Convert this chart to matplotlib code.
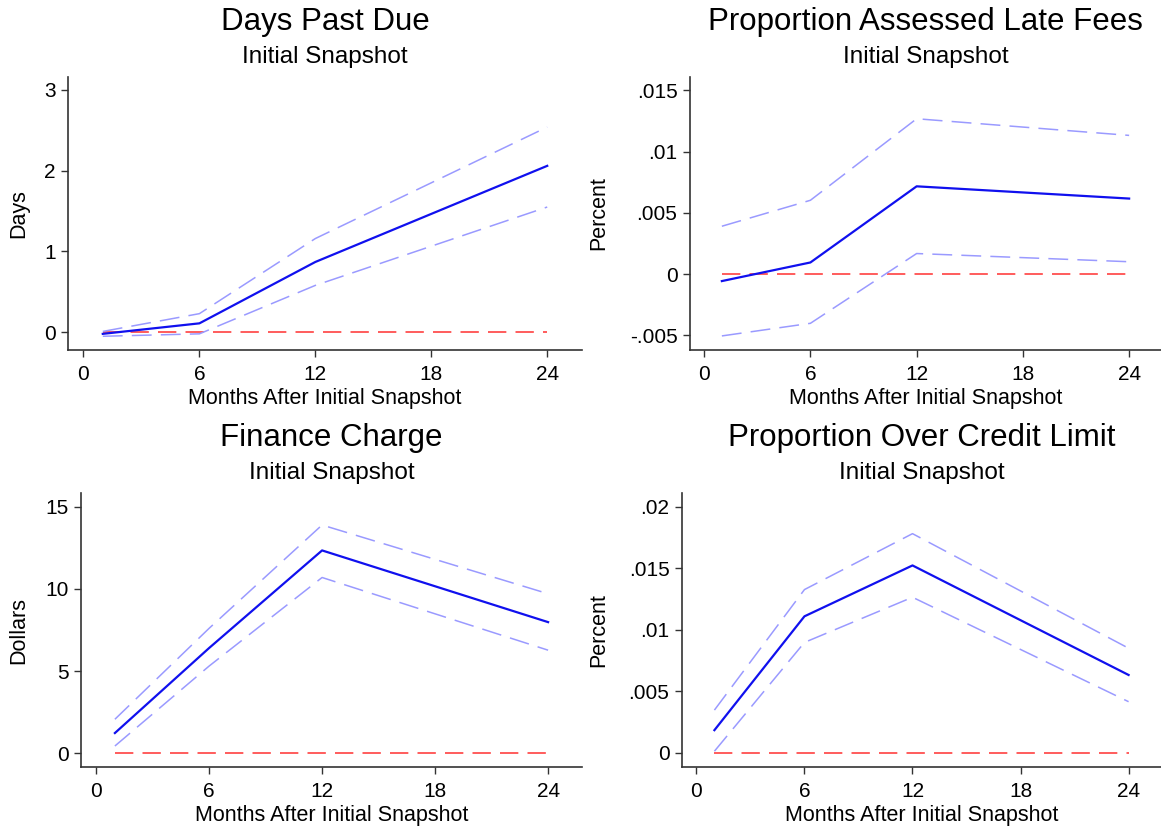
import matplotlib
matplotlib.use("Agg")
import matplotlib.pyplot as plt

plt.rcParams['font.family'] = ['Liberation Sans', 'DejaVu Sans']

months = [1, 6, 12, 24]

# Days past due
days_est = [-0.02, 0.11, 0.87, 2.06]
days_hi = [0.01, 0.23, 1.16, 2.54]
days_lo = [-0.05, -0.02, 0.58, 1.55]

# Proportion assessed late fees
fees_est = [-0.00057, 0.00095, 0.00717, 0.00617]
fees_hi = [0.00391, 0.00603, 0.01269, 0.01133]
fees_lo = [-0.00505, -0.00402, 0.00168, 0.00101]

# Finance charge
fin_est = [1.22, 6.4, 12.35, 7.98]
fin_hi = [2.06, 7.6, 13.9, 9.71]
fin_lo = [0.43, 5.3, 10.7, 6.27]

# Proportion over credit limit
ocl_est = [0.00185, 0.01109, 0.01522, 0.00633]
ocl_hi = [0.00348, 0.01326, 0.0178, 0.0085]
ocl_lo = [0.00014, 0.00897, 0.01264, 0.00416]

titles = ["Days Past Due", "Proportion Assessed Late Fees",
          "Finance Charge", "Proportion Over Credit Limit"]
ylabels = ["Days", "Percent", "Dollars", "Percent"]
yticks = [[0, 1, 2, 3], [-0.005, 0, 0.005, 0.01, 0.015],
          [0, 5, 10, 15], [0, 0.005, 0.01, 0.015, 0.02]]
yticklabels = [["0", "1", "2", "3"], ["-.005", "0", ".005", ".01", ".015"],
               ["0", "5", "10", "15"], ["0", ".005", ".01", ".015", ".02"]]
ylims = [(-0.22, 3.16), (-0.0062, 0.0161), (-0.85, 15.85), (-0.00114, 0.0211)]
xticks = [0, 6, 12, 18, 24]

series = [(days_est, days_hi, days_lo), (fees_est, fees_hi, fees_lo),
          (fin_est, fin_hi, fin_lo), (ocl_est, ocl_hi, ocl_lo)]

W, H = 1161, 831
# axes boxes in pixels: left, right, top, bottom
boxes = [(68, 582, 77, 350), (690, 1161, 77, 350),
         (81, 582, 493, 767), (682, 1161, 493, 767)]
ylab_x = [29, 609, 29, 609]

fig = plt.figure(figsize=(W / 100, H / 100), dpi=100)

for i in range(4):
    l, r, t, b = boxes[i]
    ax = fig.add_axes([l / W, (H - b) / H, (r - l) / W, (b - t) / H])
    est, hi, lo = series[i]
    ax.plot([months[0], months[-1]], [0, 0], color='#ff3030', lw=1.1,
            dashes=(12, 6))
    ax.plot(months, hi, color='#9a9aff', lw=1.1, dashes=(13, 6))
    ax.plot(months, lo, color='#9a9aff', lw=1.1, dashes=(13, 6))
    ax.plot(months, est, color='#1010ee', lw=1.6)

    ax.set_xlim(-0.8, 25.8)
    ax.set_ylim(*ylims[i])
    ax.set_xticks(xticks)
    ax.set_xticklabels([str(x) for x in xticks])
    ax.set_yticks(yticks[i])
    ax.set_yticklabels(yticklabels[i])
    ax.tick_params(labelsize=15, length=5, width=1, color='#333333', pad=4)
    ax.tick_params(axis='x', pad=6)
    for s in ['top', 'right']:
        ax.spines[s].set_visible(False)
    for s in ['left', 'bottom']:
        ax.spines[s].set_linewidth(1.2)
        ax.spines[s].set_color('#333333')

    ax.set_xlabel("Months After Initial Snapshot", fontsize=15.5, labelpad=3)
    ax.set_ylabel(ylabels[i], fontsize=15.5)
    ax.yaxis.set_label_coords((ylab_x[i] - l) / (r - l), 0.5)

    ax.text(0.5, 1 + 55 / (b - t), titles[i], transform=ax.transAxes,
            ha='center', va='center', fontsize=22.5)
    ax.text(0.5, 1 + 20 / (b - t), "Initial Snapshot", transform=ax.transAxes,
            ha='center', va='center', fontsize=17.5)

plt.savefig('out.png', dpi=100)
